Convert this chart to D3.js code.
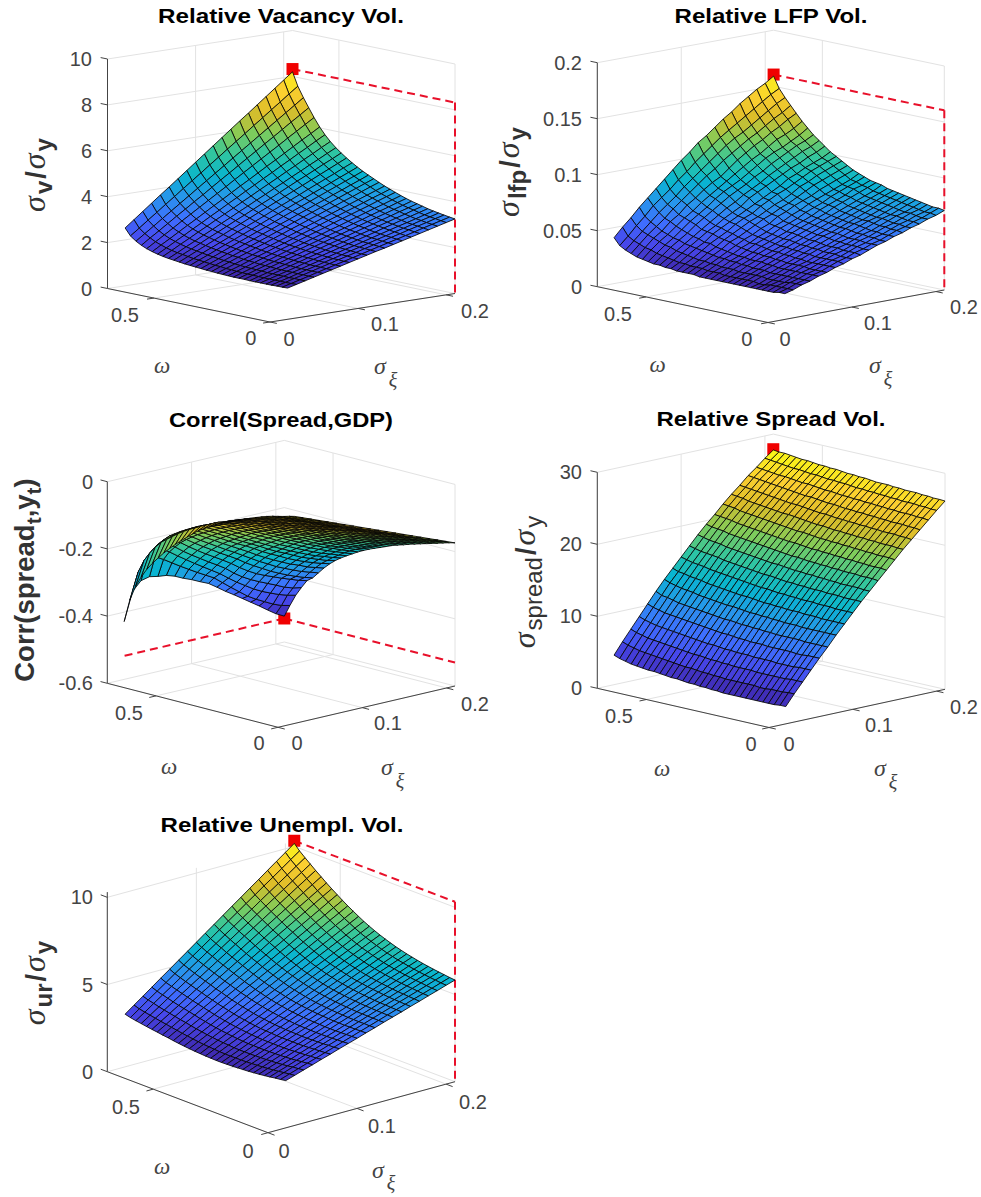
<!DOCTYPE html>
<html>
<head>
<meta charset="utf-8">
<script src="https://cdn.jsdelivr.net/npm/d3@7"></script>
<style>
  html, body { margin: 0; background: #fff; }
  text { font-family: "Liberation Sans", sans-serif; }
</style>
</head>
<body>
<div id="chart"></div>
<script>
const sigmaGrid = [0.02, 0.03, 0.04, 0.05, 0.06, 0.07, 0.08, 0.09, 0.1, 0.11, 0.12, 0.13, 0.14, 0.15, 0.16, 0.17, 0.18, 0.19, 0.2, 0.21];
const omegaGrid = [0, 0.023, 0.047, 0.07, 0.093, 0.117, 0.14, 0.163, 0.187, 0.21, 0.233, 0.257, 0.28, 0.303, 0.327, 0.35, 0.373, 0.397, 0.42, 0.443, 0.467, 0.49, 0.513, 0.537, 0.56, 0.583, 0.607, 0.63, 0.653, 0.677, 0.7];

// one row per omega, one column per sigma
const vacancyZ = [
  [1.36,1.46,1.56,1.66,1.76,1.86,1.96,2.06,2.16,2.26,2.36,2.45,2.55,2.65,2.75,2.85,2.95,3.05,3.15,3.25],
  [1.35,1.45,1.55,1.65,1.76,1.86,1.96,2.06,2.16,2.26,2.37,2.47,2.57,2.67,2.77,2.87,2.98,3.08,3.18,3.28],
  [1.35,1.45,1.56,1.66,1.76,1.87,1.97,2.08,2.18,2.28,2.39,2.49,2.59,2.70,2.80,2.91,3.01,3.11,3.22,3.32],
  [1.34,1.45,1.55,1.66,1.77,1.87,1.98,2.08,2.19,2.30,2.40,2.51,2.62,2.72,2.83,2.93,3.04,3.15,3.25,3.36],
  [1.34,1.45,1.56,1.67,1.77,1.88,1.99,2.10,2.21,2.32,2.42,2.53,2.64,2.75,2.86,2.97,3.07,3.18,3.29,3.40],
  [1.34,1.45,1.56,1.67,1.78,1.90,2.01,2.12,2.23,2.34,2.45,2.56,2.67,2.78,2.90,3.01,3.12,3.23,3.34,3.45],
  [1.34,1.45,1.57,1.68,1.80,1.91,2.03,2.14,2.25,2.37,2.48,2.60,2.71,2.82,2.94,3.05,3.17,3.28,3.40,3.51],
  [1.34,1.46,1.57,1.69,1.81,1.93,2.04,2.16,2.28,2.40,2.51,2.63,2.75,2.87,2.98,3.10,3.22,3.34,3.45,3.57],
  [1.35,1.47,1.59,1.71,1.83,1.95,2.07,2.19,2.31,2.43,2.55,2.67,2.79,2.91,3.03,3.15,3.27,3.39,3.51,3.63],
  [1.35,1.47,1.60,1.72,1.84,1.97,2.09,2.22,2.34,2.46,2.59,2.71,2.83,2.96,3.08,3.21,3.33,3.45,3.58,3.70],
  [1.35,1.48,1.61,1.73,1.86,1.99,2.12,2.25,2.37,2.50,2.63,2.76,2.88,3.01,3.14,3.27,3.40,3.52,3.65,3.78],
  [1.36,1.49,1.62,1.76,1.89,2.02,2.15,2.28,2.42,2.55,2.68,2.81,2.95,3.08,3.21,3.34,3.47,3.61,3.74,3.87],
  [1.37,1.51,1.64,1.78,1.92,2.05,2.19,2.32,2.46,2.60,2.73,2.87,3.01,3.14,3.28,3.41,3.55,3.69,3.82,3.96],
  [1.38,1.52,1.66,1.80,1.94,2.08,2.22,2.36,2.50,2.64,2.79,2.93,3.07,3.21,3.35,3.49,3.63,3.77,3.91,4.05],
  [1.40,1.55,1.69,1.84,1.98,2.13,2.27,2.42,2.56,2.71,2.85,3.00,3.14,3.29,3.43,3.58,3.72,3.87,4.02,4.16],
  [1.41,1.56,1.71,1.86,2.01,2.16,2.31,2.46,2.61,2.76,2.92,3.07,3.22,3.37,3.52,3.67,3.82,3.97,4.12,4.27],
  [1.43,1.59,1.74,1.90,2.05,2.21,2.36,2.52,2.67,2.83,2.98,3.14,3.29,3.45,3.60,3.76,3.91,4.07,4.22,4.38],
  [1.45,1.61,1.77,1.93,2.09,2.25,2.41,2.57,2.73,2.89,3.06,3.22,3.38,3.54,3.70,3.86,4.02,4.18,4.34,4.50],
  [1.47,1.64,1.80,1.97,2.14,2.30,2.47,2.63,2.80,2.97,3.13,3.30,3.47,3.63,3.80,3.96,4.13,4.30,4.46,4.63],
  [1.49,1.66,1.84,2.01,2.18,2.35,2.53,2.70,2.87,3.04,3.22,3.39,3.56,3.73,3.91,4.08,4.25,4.42,4.60,4.77],
  [1.52,1.70,1.88,2.06,2.24,2.42,2.60,2.78,2.96,3.14,3.31,3.49,3.67,3.85,4.03,4.21,4.39,4.57,4.75,4.93],
  [1.55,1.74,1.92,2.11,2.30,2.48,2.67,2.86,3.04,3.23,3.42,3.60,3.79,3.98,4.17,4.35,4.54,4.73,4.91,5.10],
  [1.58,1.77,1.97,2.16,2.36,2.55,2.75,2.94,3.14,3.33,3.53,3.72,3.92,4.11,4.31,4.50,4.70,4.89,5.09,5.28],
  [1.62,1.82,2.03,2.23,2.44,2.64,2.85,3.05,3.25,3.46,3.66,3.87,4.07,4.27,4.48,4.68,4.89,5.09,5.30,5.50],
  [1.67,1.88,2.10,2.31,2.53,2.74,2.96,3.17,3.39,3.60,3.82,4.03,4.25,4.46,4.68,4.89,5.11,5.32,5.54,5.75],
  [1.73,1.96,2.18,2.41,2.64,2.86,3.09,3.32,3.54,3.77,4.00,4.22,4.45,4.68,4.90,5.13,5.36,5.59,5.81,6.04],
  [1.81,2.05,2.29,2.53,2.78,3.02,3.26,3.50,3.74,3.98,4.23,4.47,4.71,4.95,5.19,5.43,5.68,5.92,6.16,6.40],
  [1.91,2.17,2.42,2.68,2.94,3.19,3.45,3.70,3.96,4.22,4.47,4.73,4.99,5.24,5.50,5.75,6.01,6.27,6.52,6.78],
  [2.04,2.31,2.58,2.85,3.12,3.39,3.66,3.93,4.20,4.47,4.74,5.01,5.28,5.55,5.82,6.09,6.36,6.63,6.90,7.17],
  [2.22,2.50,2.79,3.07,3.36,3.64,3.93,4.21,4.49,4.78,5.06,5.35,5.63,5.91,6.20,6.48,6.77,7.05,7.34,7.62],
  [2.52,2.82,3.12,3.42,3.72,4.01,4.31,4.61,4.91,5.21,5.51,5.81,6.11,6.41,6.70,7.00,7.30,7.60,7.90,8.20]
];
const lfpZ = [
  [.023,.025,.028,.030,.033,.035,.038,.040,.043,.045,.048,.051,.053,.056,.058,.061,.063,.066,.068,.071],
  [.023,.025,.028,.030,.033,.035,.038,.041,.043,.046,.048,.051,.053,.056,.059,.061,.064,.066,.069,.072],
  [.022,.025,.028,.030,.033,.035,.038,.041,.043,.046,.049,.051,.054,.056,.059,.062,.064,.067,.069,.072],
  [.022,.025,.027,.030,.033,.035,.038,.041,.044,.046,.049,.052,.054,.057,.060,.062,.065,.068,.070,.073],
  [.022,.025,.027,.030,.033,.036,.038,.041,.044,.047,.049,.052,.055,.057,.060,.063,.066,.068,.071,.074],
  [.022,.024,.027,.030,.033,.036,.038,.041,.044,.047,.050,.052,.055,.058,.061,.064,.066,.069,.072,.075],
  [.022,.024,.027,.030,.033,.036,.039,.042,.045,.047,.050,.053,.056,.059,.062,.064,.067,.070,.073,.076],
  [.022,.025,.028,.030,.033,.036,.039,.042,.045,.048,.051,.054,.057,.060,.062,.065,.068,.071,.074,.077],
  [.022,.025,.028,.031,.034,.037,.040,.043,.046,.049,.052,.054,.057,.060,.063,.066,.069,.072,.075,.078],
  [.022,.025,.028,.031,.034,.037,.040,.043,.046,.049,.052,.055,.058,.061,.064,.067,.070,.073,.076,.079],
  [.022,.025,.028,.031,.035,.038,.041,.044,.047,.050,.053,.056,.059,.062,.065,.068,.071,.074,.077,.080],
  [.022,.025,.028,.032,.035,.038,.041,.044,.048,.051,.054,.057,.060,.063,.066,.069,.072,.075,.078,.082],
  [.022,.025,.029,.032,.035,.039,.042,.045,.048,.052,.055,.058,.061,.064,.068,.071,.074,.077,.080,.083],
  [.022,.026,.029,.033,.036,.039,.043,.046,.049,.052,.056,.059,.062,.066,.069,.072,.075,.079,.081,.084],
  [.022,.026,.029,.033,.036,.040,.044,.047,.050,.054,.057,.060,.064,.067,.070,.074,.077,.080,.083,.086],
  [.022,.026,.030,.034,.037,.041,.044,.048,.051,.055,.058,.062,.065,.069,.072,.075,.078,.081,.084,.088],
  [.023,.027,.030,.034,.038,.042,.046,.049,.053,.056,.061,.064,.068,.071,.074,.078,.081,.084,.087,.090],
  [.023,.027,.031,.035,.039,.044,.047,.051,.055,.059,.062,.066,.069,.073,.077,.081,.084,.087,.090,.093],
  [.023,.027,.031,.036,.040,.045,.049,.053,.057,.060,.064,.068,.071,.075,.080,.083,.087,.090,.093,.096],
  [.023,.028,.032,.037,.042,.046,.050,.055,.059,.062,.067,.071,.075,.078,.082,.086,.090,.093,.096,.099],
  [.024,.028,.033,.038,.042,.048,.052,.056,.060,.064,.068,.072,.076,.080,.085,.088,.092,.095,.098,.102],
  [.024,.029,.034,.039,.044,.049,.053,.058,.062,.066,.072,.076,.080,.084,.088,.092,.095,.099,.102,.106],
  [.025,.030,.035,.040,.045,.050,.055,.060,.065,.069,.074,.078,.082,.087,.091,.095,.099,.103,.106,.110],
  [.025,.031,.037,.042,.047,.053,.058,.063,.068,.073,.077,.081,.086,.090,.095,.099,.103,.107,.110,.114],
  [.026,.032,.038,.043,.049,.055,.060,.065,.071,.076,.080,.084,.089,.094,.099,.103,.106,.110,.114,.119],
  [.027,.034,.040,.045,.051,.057,.062,.068,.073,.078,.083,.088,.093,.098,.102,.107,.112,.115,.119,.124],
  [.028,.035,.042,.047,.054,.059,.066,.071,.077,.082,.086,.092,.098,.103,.108,.112,.117,.121,.126,.130],
  [.030,.037,.044,.050,.056,.063,.069,.075,.081,.087,.092,.098,.103,.108,.113,.117,.122,.127,.131,.136],
  [.032,.039,.046,.053,.060,.066,.072,.079,.085,.091,.097,.103,.109,.114,.118,.123,.128,.133,.138,.142],
  [.035,.042,.050,.057,.065,.071,.077,.084,.090,.097,.103,.109,.115,.120,.125,.130,.135,.140,.145,.149],
  [.041,.049,.056,.064,.071,.078,.085,.092,.099,.105,.112,.117,.123,.129,.134,.140,.145,.150,.154,.159]
];
const corrZ = [
  [.016,.006,-.004,-.014,-.024,-.034,-.044,-.054,-.064,-.074,-.084,-.094,-.104,-.114,-.124,-.134,-.144,-.154,-.164,-.174],
  [.012,.002,-.008,-.018,-.028,-.038,-.048,-.059,-.069,-.079,-.089,-.099,-.109,-.119,-.129,-.139,-.149,-.158,-.168,-.178],
  [.007,-.003,-.013,-.023,-.033,-.043,-.053,-.063,-.073,-.083,-.093,-.103,-.113,-.123,-.133,-.143,-.153,-.163,-.173,-.183],
  [.003,-.007,-.017,-.027,-.037,-.047,-.057,-.067,-.077,-.087,-.097,-.107,-.117,-.127,-.137,-.148,-.158,-.168,-.178,-.188],
  [-.001,-.010,-.020,-.030,-.040,-.051,-.061,-.071,-.081,-.091,-.101,-.111,-.121,-.132,-.142,-.152,-.162,-.172,-.182,-.193],
  [-.006,-.015,-.025,-.035,-.044,-.054,-.065,-.075,-.085,-.095,-.105,-.115,-.126,-.136,-.147,-.157,-.167,-.177,-.187,-.198],
  [-.012,-.020,-.029,-.039,-.049,-.059,-.070,-.080,-.090,-.100,-.110,-.120,-.131,-.141,-.152,-.162,-.172,-.182,-.192,-.203],
  [-.018,-.025,-.034,-.044,-.053,-.064,-.074,-.085,-.095,-.105,-.115,-.125,-.136,-.146,-.157,-.167,-.177,-.187,-.197,-.208],
  [-.025,-.031,-.039,-.049,-.059,-.069,-.079,-.090,-.100,-.110,-.120,-.131,-.141,-.152,-.162,-.172,-.182,-.192,-.203,-.213],
  [-.031,-.036,-.044,-.054,-.064,-.074,-.085,-.095,-.105,-.116,-.126,-.137,-.147,-.158,-.168,-.178,-.188,-.198,-.208,-.219],
  [-.038,-.042,-.050,-.059,-.069,-.079,-.090,-.100,-.111,-.121,-.132,-.143,-.153,-.164,-.174,-.184,-.194,-.204,-.214,-.224],
  [-.045,-.048,-.055,-.064,-.074,-.085,-.095,-.106,-.117,-.127,-.138,-.149,-.160,-.170,-.181,-.191,-.200,-.210,-.220,-.230],
  [-.053,-.054,-.061,-.070,-.080,-.090,-.101,-.112,-.123,-.134,-.145,-.156,-.166,-.177,-.187,-.197,-.207,-.217,-.227,-.237],
  [-.061,-.060,-.066,-.075,-.085,-.096,-.107,-.118,-.129,-.140,-.151,-.162,-.173,-.184,-.194,-.204,-.214,-.224,-.234,-.244],
  [-.070,-.068,-.072,-.081,-.091,-.102,-.113,-.124,-.136,-.147,-.158,-.169,-.180,-.191,-.202,-.212,-.222,-.232,-.241,-.251],
  [-.080,-.073,-.078,-.087,-.097,-.108,-.120,-.131,-.143,-.154,-.166,-.177,-.188,-.199,-.210,-.220,-.230,-.239,-.249,-.258],
  [-.090,-.081,-.084,-.093,-.104,-.115,-.127,-.138,-.150,-.162,-.174,-.185,-.196,-.208,-.218,-.229,-.238,-.248,-.257,-.266],
  [-.101,-.090,-.090,-.099,-.110,-.122,-.134,-.146,-.158,-.170,-.182,-.194,-.205,-.217,-.227,-.238,-.247,-.257,-.266,-.275],
  [-.115,-.098,-.098,-.106,-.118,-.130,-.142,-.154,-.167,-.179,-.192,-.204,-.215,-.227,-.238,-.248,-.258,-.267,-.276,-.285],
  [-.129,-.107,-.105,-.114,-.125,-.138,-.151,-.164,-.177,-.189,-.202,-.215,-.226,-.238,-.249,-.260,-.270,-.278,-.287,-.295],
  [-.144,-.116,-.113,-.122,-.134,-.147,-.160,-.174,-.187,-.200,-.213,-.226,-.238,-.250,-.261,-.272,-.282,-.290,-.299,-.306],
  [-.159,-.126,-.122,-.130,-.143,-.156,-.170,-.184,-.197,-.210,-.223,-.237,-.250,-.261,-.273,-.285,-.294,-.303,-.312,-.318],
  [-.175,-.137,-.131,-.139,-.152,-.166,-.180,-.194,-.208,-.220,-.234,-.249,-.262,-.274,-.287,-.298,-.308,-.317,-.325,-.332],
  [-.193,-.150,-.141,-.147,-.162,-.177,-.191,-.206,-.220,-.234,-.248,-.263,-.277,-.290,-.302,-.314,-.323,-.334,-.342,-.349],
  [-.212,-.163,-.152,-.158,-.173,-.189,-.204,-.219,-.234,-.248,-.263,-.278,-.293,-.306,-.320,-.331,-.342,-.352,-.360,-.368],
  [-.232,-.176,-.163,-.169,-.185,-.202,-.218,-.233,-.249,-.263,-.278,-.295,-.310,-.324,-.338,-.350,-.361,-.371,-.380,-.387],
  [-.255,-.195,-.179,-.183,-.199,-.217,-.234,-.250,-.265,-.280,-.296,-.314,-.330,-.344,-.355,-.365,-.375,-.384,-.393,-.400],
  [-.282,-.217,-.196,-.200,-.216,-.235,-.252,-.268,-.284,-.299,-.315,-.335,-.352,-.366,-.378,-.389,-.400,-.412,-.420,-.425],
  [-.314,-.243,-.219,-.219,-.235,-.253,-.270,-.287,-.303,-.319,-.335,-.354,-.372,-.388,-.404,-.417,-.428,-.438,-.446,-.452],
  [-.360,-.282,-.252,-.248,-.262,-.278,-.294,-.309,-.324,-.338,-.352,-.372,-.392,-.411,-.430,-.445,-.458,-.471,-.481,-.487],
  [-.428,-.344,-.318,-.312,-.317,-.320,-.328,-.340,-.350,-.362,-.373,-.390,-.408,-.424,-.441,-.458,-.475,-.493,-.510,-.523]
];
const spreadZ = [
  [2.4,3.9,5.3,6.7,8.1,9.4,10.8,12.1,13.4,14.7,15.9,17.1,18.3,19.5,20.7,21.8,22.9,24.0,25.1,26.15],
  [2.4,3.9,5.3,6.7,8.1,9.4,10.8,12.1,13.4,14.7,15.9,17.2,18.4,19.6,20.7,21.9,23.0,24.1,25.1,26.2],
  [2.3,3.8,5.3,6.7,8.1,9.4,10.8,12.1,13.4,14.7,16.0,17.2,18.4,19.6,20.8,21.9,23.0,24.1,25.2,26.2],
  [2.3,3.8,5.2,6.6,8.0,9.4,10.8,12.1,13.4,14.7,16.0,17.2,18.4,19.6,20.8,22.0,23.1,24.2,25.2,26.3],
  [2.3,3.8,5.2,6.6,8.0,9.4,10.8,12.1,13.5,14.8,16.0,17.3,18.5,19.7,20.8,22.0,23.1,24.2,25.3,26.3],
  [2.3,3.7,5.2,6.6,8.1,9.5,10.8,12.2,13.5,14.8,16.0,17.3,18.5,19.7,20.9,22.0,23.1,24.2,25.3,26.4],
  [2.3,3.7,5.2,6.6,8.1,9.5,10.8,12.2,13.5,14.8,16.1,17.3,18.6,19.8,20.9,22.1,23.2,24.3,25.3,26.4],
  [2.3,3.8,5.2,6.7,8.1,9.5,10.9,12.2,13.6,14.9,16.1,17.4,18.6,19.8,21.0,22.1,23.2,24.3,25.4,26.4],
  [2.3,3.8,5.2,6.7,8.1,9.5,10.9,12.3,13.6,14.9,16.2,17.4,18.7,19.9,21.0,22.2,23.3,24.4,25.4,26.5],
  [2.3,3.8,5.3,6.7,8.1,9.5,10.9,12.3,13.6,14.9,16.2,17.5,18.7,19.9,21.1,22.2,23.3,24.4,25.5,26.5],
  [2.3,3.8,5.3,6.7,8.2,9.6,11.0,12.3,13.7,15.0,16.3,17.5,18.8,20.0,21.1,22.3,23.4,24.5,25.5,26.6],
  [2.3,3.8,5.3,6.8,8.2,9.6,11.0,12.4,13.7,15.0,16.3,17.6,18.8,20.0,21.2,22.3,23.4,24.5,25.6,26.6],
  [2.4,3.8,5.3,6.8,8.2,9.7,11.1,12.4,13.8,15.1,16.4,17.6,18.9,20.1,21.2,22.4,23.5,24.6,25.6,26.6],
  [2.4,3.9,5.4,6.8,8.3,9.7,11.1,12.5,13.8,15.1,16.4,17.7,18.9,20.1,21.3,22.4,23.5,24.6,25.7,26.7],
  [2.5,3.9,5.4,6.9,8.3,9.8,11.2,12.5,13.9,15.2,16.5,17.8,19.0,20.2,21.4,22.5,23.6,24.7,25.7,26.8],
  [2.5,4.0,5.5,6.9,8.4,9.8,11.2,12.6,14.0,15.3,16.6,17.8,19.1,20.3,21.4,22.6,23.7,24.7,25.8,26.8],
  [2.6,4.0,5.5,7.0,8.5,9.9,11.3,12.7,14.0,15.4,16.7,17.9,19.2,20.4,21.5,22.6,23.7,24.8,25.9,26.9],
  [2.6,4.1,5.6,7.1,8.5,10.0,11.4,12.8,14.1,15.4,16.7,18.0,19.2,20.4,21.6,22.7,23.8,24.9,25.9,26.9],
  [2.7,4.2,5.7,7.1,8.6,10.0,11.5,12.8,14.2,15.5,16.8,18.1,19.3,20.5,21.7,22.8,23.9,24.9,26.0,27.0],
  [2.8,4.2,5.7,7.2,8.7,10.1,11.5,12.9,14.3,15.6,16.9,18.2,19.4,20.6,21.8,22.9,24.0,25.0,26.0,27.1],
  [2.8,4.3,5.8,7.3,8.8,10.2,11.6,13.0,14.4,15.7,17.0,18.3,19.5,20.7,21.9,23.0,24.0,25.1,26.1,27.1],
  [2.9,4.4,5.9,7.4,8.9,10.3,11.7,13.1,14.5,15.8,17.1,18.4,19.6,20.8,21.9,23.0,24.1,25.2,26.2,27.2],
  [3.0,4.5,6.0,7.5,9.0,10.4,11.8,13.2,14.6,15.9,17.2,18.5,19.7,20.9,22.0,23.1,24.2,25.2,26.2,27.2],
  [3.1,4.6,6.1,7.6,9.1,10.5,11.9,13.3,14.7,16.0,17.3,18.6,19.8,21.0,22.1,23.2,24.3,25.3,26.3,27.3],
  [3.1,4.7,6.2,7.7,9.2,10.6,12.0,13.4,14.8,16.1,17.4,18.7,19.9,21.1,22.2,23.3,24.4,25.4,26.4,27.4],
  [3.2,4.8,6.3,7.8,9.3,10.7,12.2,13.6,14.9,16.3,17.5,18.8,20.0,21.2,22.3,23.4,24.5,25.5,26.4,27.4],
  [3.3,4.9,6.4,7.9,9.4,10.8,12.3,13.7,15.1,16.4,17.7,18.9,20.1,21.3,22.4,23.5,24.6,25.5,26.5,27.5],
  [3.4,5.0,6.5,8.0,9.5,11.0,12.4,13.8,15.2,16.5,17.8,19.1,20.3,21.4,22.5,23.6,24.7,25.6,26.6,27.6],
  [3.6,5.2,6.7,8.2,9.7,11.2,12.6,14.0,15.3,16.6,17.9,19.2,20.4,21.6,22.7,23.7,24.8,25.7,26.7,27.7],
  [3.8,5.4,6.9,8.4,9.9,11.3,12.8,14.1,15.5,16.8,18.1,19.3,20.5,21.7,22.8,23.8,24.9,25.8,26.8,27.7],
  [4.1,5.7,7.2,8.7,10.2,11.7,13.1,14.4,15.7,17.0,18.3,19.5,20.6,21.8,22.9,23.9,25.0,25.9,26.9,27.8]
];
const unemplZ = [
  [2.71,2.87,3.04,3.20,3.37,3.53,3.70,3.86,4.02,4.19,4.35,4.52,4.68,4.84,5.01,5.17,5.34,5.50,5.67,5.83],
  [2.66,2.83,3.00,3.17,3.33,3.50,3.67,3.84,4.01,4.18,4.34,4.51,4.68,4.85,5.02,5.19,5.35,5.52,5.69,5.86],
  [2.62,2.79,2.97,3.14,3.31,3.48,3.66,3.83,4.00,4.17,4.35,4.52,4.69,4.86,5.04,5.21,5.38,5.55,5.73,5.90],
  [2.57,2.75,2.92,3.10,3.28,3.46,3.63,3.81,3.99,4.17,4.34,4.52,4.70,4.88,5.05,5.23,5.41,5.59,5.76,5.94],
  [2.53,2.71,2.89,3.07,3.26,3.44,3.62,3.80,3.98,4.16,4.35,4.53,4.71,4.89,5.07,5.25,5.44,5.62,5.80,5.98],
  [2.49,2.68,2.86,3.05,3.24,3.42,3.61,3.79,3.98,4.17,4.35,4.54,4.73,4.91,5.10,5.28,5.47,5.66,5.84,6.03],
  [2.46,2.65,2.84,3.03,3.22,3.41,3.60,3.79,3.98,4.17,4.37,4.56,4.75,4.94,5.13,5.32,5.51,5.70,5.89,6.08],
  [2.43,2.63,2.82,3.02,3.21,3.41,3.60,3.80,4.00,4.19,4.39,4.58,4.78,4.97,5.17,5.36,5.56,5.75,5.95,6.14],
  [2.41,2.61,2.81,3.01,3.21,3.41,3.61,3.81,4.01,4.21,4.41,4.61,4.81,5.01,5.21,5.41,5.61,5.81,6.01,6.21],
  [2.39,2.59,2.80,3.00,3.21,3.41,3.62,3.82,4.03,4.23,4.44,4.64,4.85,5.05,5.26,5.46,5.67,5.87,6.07,6.28],
  [2.37,2.58,2.79,3.00,3.21,3.42,3.63,3.84,4.05,4.26,4.47,4.68,4.89,5.10,5.31,5.52,5.73,5.94,6.15,6.36],
  [2.36,2.58,2.79,3.01,3.22,3.44,3.65,3.87,4.08,4.30,4.51,4.73,4.94,5.16,5.37,5.59,5.80,6.02,6.23,6.45],
  [2.35,2.57,2.79,3.01,3.23,3.46,3.68,3.90,4.12,4.34,4.56,4.78,5.00,5.22,5.45,5.67,5.89,6.11,6.33,6.55],
  [2.35,2.58,2.80,3.03,3.26,3.48,3.71,3.94,4.16,4.39,4.62,4.84,5.07,5.30,5.53,5.75,5.98,6.21,6.43,6.66],
  [2.36,2.59,2.83,3.06,3.29,3.52,3.76,3.99,4.22,4.45,4.69,4.92,5.15,5.38,5.62,5.85,6.08,6.31,6.55,6.78],
  [2.37,2.61,2.85,3.09,3.33,3.56,3.80,4.04,4.28,4.52,4.76,5.00,5.24,5.48,5.71,5.95,6.19,6.43,6.67,6.91],
  [2.39,2.64,2.88,3.13,3.37,3.62,3.86,4.11,4.35,4.60,4.84,5.09,5.33,5.58,5.82,6.07,6.31,6.56,6.80,7.05],
  [2.41,2.66,2.92,3.17,3.42,3.67,3.93,4.18,4.43,4.68,4.94,5.19,5.44,5.69,5.95,6.20,6.45,6.70,6.96,7.21],
  [2.44,2.70,2.96,3.22,3.48,3.74,4.00,4.26,4.52,4.78,5.04,5.30,5.56,5.82,6.08,6.34,6.60,6.86,7.12,7.38],
  [2.47,2.74,3.01,3.27,3.54,3.81,4.08,4.35,4.61,4.88,5.15,5.42,5.68,5.95,6.22,6.49,6.76,7.02,7.29,7.56],
  [2.51,2.79,3.06,3.34,3.61,3.89,4.16,4.44,4.72,4.99,5.27,5.54,5.82,6.10,6.37,6.65,6.92,7.20,7.47,7.75],
  [2.55,2.83,3.12,3.40,3.69,3.97,4.26,4.54,4.82,5.11,5.39,5.68,5.96,6.24,6.53,6.81,7.10,7.38,7.67,7.95],
  [2.60,2.89,3.19,3.48,3.77,4.06,4.36,4.65,4.94,5.23,5.53,5.82,6.11,6.40,6.70,6.99,7.28,7.57,7.87,8.16],
  [2.64,2.94,3.24,3.55,3.85,4.15,4.45,4.75,5.06,5.36,5.66,5.96,6.27,6.57,6.87,7.17,7.47,7.78,8.08,8.38],
  [2.69,3.00,3.31,3.62,3.93,4.25,4.56,4.87,5.18,5.49,5.80,6.11,6.42,6.73,7.05,7.36,7.67,7.98,8.29,8.60],
  [2.73,3.05,3.37,3.69,4.02,4.34,4.66,4.98,5.30,5.62,5.95,6.27,6.59,6.91,7.23,7.55,7.88,8.20,8.52,8.84],
  [2.78,3.11,3.44,3.77,4.11,4.44,4.77,5.10,5.43,5.76,6.10,6.43,6.76,7.09,7.42,7.75,8.09,8.42,8.75,9.08],
  [2.83,3.17,3.51,3.86,4.20,4.54,4.88,5.22,5.57,5.91,6.25,6.59,6.93,7.28,7.62,7.96,8.30,8.64,8.99,9.33],
  [2.88,3.23,3.59,3.94,4.29,4.64,5.00,5.35,5.70,6.05,6.41,6.76,7.11,7.46,7.82,8.17,8.52,8.87,9.23,9.58],
  [2.94,3.30,3.67,4.03,4.39,4.76,5.12,5.49,5.85,6.21,6.58,6.94,7.30,7.67,8.03,8.40,8.76,9.12,9.49,9.85],
  [3.02,3.40,3.77,4.15,4.53,4.90,5.28,5.65,6.03,6.41,6.78,7.16,7.54,7.91,8.29,8.66,9.04,9.42,9.79,10.17]
];

const parula = ['#3e26a8', '#4747eb', '#3e6fff', '#2796eb', '#08b5d0', '#31c69f', '#81cc59', '#dcbd29', '#fccf30', '#f9fb15'];

const sigmaMax = 0.21;
const omegaMax = 0.7;
const sigmaTicks = [0, 0.1, 0.2];
const omegaTicks = [0, 0.5];
const sigmaTickLabels = ['0', '0.1', '0.2'];
const omegaTickLabels = ['0', '0.5'];

const sym = { font: '"Liberation Serif", serif', style: 'italic' };

const panels = [
  {
    title: 'Relative Vacancy Vol.', titlePos: [281, 15], titleWidth: 246, z: vacancyZ, peak: 8.32, dashes: 'down',
    zLim: [0, 10], zTicks: [0, 2, 4, 6, 8, 10], zTickLabels: ['0', '2', '4', '6', '8', '10'],
    L: [107.5, 288.5], F: [270, 322], R: [455, 293.5], zHeight: 229.5, zLabelX: 92,
    sigmaLabels: [[289, 339], [385, 324], [475, 311]], omegaLabels: [[250.7, 338], [125, 315]],
    omegaName: [162, 365], sigmaName: [380, 366], xi: [393, 380],
    yLabel: { x: 45, y: 175, parts: [['σ', 'm'], ['v', 's'], ['/', 'm'], ['σ', 'm'], ['y', 's']] }
  },
  {
    title: 'Relative LFP Vol.', titlePos: [771, 15], titleWidth: 193, z: lfpZ, peak: 0.1604, dashes: 'down',
    zLim: [0, 0.2], zTicks: [0, 0.05, 0.1, 0.15, 0.2], zTickLabels: ['0', '0.05', '0.1', '0.15', '0.2'],
    L: [597.3, 286.7], F: [768, 322.5], R: [944.3, 290], zHeight: 224, zLabelX: 582,
    sigmaLabels: [[785, 339], [878, 323], [964, 307]], omegaLabels: [[746.7, 339], [618, 314]],
    omegaName: [657.7, 364], sigmaName: [875, 365], xi: [888, 379],
    yLabel: { x: 519, y: 172, parts: [['σ', 'm'], ['lfp', 's'], ['/', 'm'], ['σ', 'm'], ['y', 's']] }
  },
  {
    title: 'Correl(Spread,GDP)', titlePos: [281, 419], titleWidth: 224, z: corrZ, peak: -0.53, dashes: 'both',
    zLim: [-0.6, 0], zTicks: [-0.6, -0.4, -0.2, 0], zTickLabels: ['-0.6', '-0.4', '-0.2', '0'],
    L: [107.3, 683.3], F: [278, 727.3], R: [455, 686], zHeight: 201.6, zLabelX: 93,
    sigmaLabels: [[297, 743], [388, 723], [475, 704]], omegaLabels: [[259, 743], [129, 713]],
    omegaName: [169, 766], sigmaName: [387, 767], xi: [400, 781],
    yLabel: { x: 34, y: 580, parts: [['Corr(spread', 'b'], ['t', 'bs'], [',y', 'b'], ['t', 'bs'], [')', 'b']] }
  },
  {
    title: 'Relative Spread Vol.', titlePos: [771, 418], titleWidth: 229, z: spreadZ, peak: 27.9, dashes: 'none',
    zLim: [0, 30], zTicks: [0, 10, 20, 30], zTickLabels: ['0', '10', '20', '30'],
    L: [597.3, 688.3], F: [769, 727.5], R: [945, 689.3], zHeight: 216, zLabelX: 582,
    sigmaLabels: [[789, 744], [879, 725], [964, 707]], omegaLabels: [[751, 744], [619, 716]],
    omegaName: [662, 768], sigmaName: [880, 768], xi: [893, 782],
    yLabel: { x: 535, y: 582, parts: [['σ', 'm'], ['spread', 'r'], ['/', 'm'], ['σ', 'm'], ['y', 'r']] }
  },
  {
    title: 'Relative Unempl. Vol.', titlePos: [282, 824], titleWidth: 243, z: unemplZ, peak: 10.32, dashes: 'down',
    zLim: [0, 10.3], zTicks: [0, 5, 10], zTickLabels: ['0', '5', '10'],
    L: [107.3, 1071.7], F: [268, 1132.7], R: [455, 1081.7], zHeight: 179.6, zLabelX: 93,
    sigmaLabels: [[284, 1151], [382, 1126], [473, 1102]], omegaLabels: [[248, 1151], [126, 1107]],
    omegaName: [162, 1166], sigmaName: [378, 1170], xi: [391, 1183],
    yLabel: { x: 45, y: 983, parts: [['σ', 'm'], ['ur', 's'], ['/', 'm'], ['σ', 'm'], ['y', 's']] }
  }
];

const svg = d3.select('#chart').append('svg').attr('width', 981).attr('height', 1197);
const pathLine = d3.line();

const drawYLabel = (g, label) => {
  const text = g.append('text')
    .attr('transform', `translate(${label.x},${label.y}) rotate(-90)`)
    .attr('text-anchor', 'middle')
    .attr('fill', '#333');
  let shift = 0;
  label.parts.forEach(([str, kind], i) => {
    const sub = kind === 's' || kind === 'r' || kind === 'bs';
    const target = sub ? 7 : 0;
    const span = text.append('tspan').text(str)
      .attr('dy', target - shift)
      .attr('dx', i > 0 && kind !== 'b' && kind !== 'bs' ? 2 : 0);
    shift = target;
    if (kind === 'm' && str === 'σ') {
      span.style('font-family', sym.font).style('font-style', sym.style).style('font-size', '32px');
    } else if (kind === 'm') {
      span.style('font-size', '27px').style('font-weight', 700);
    } else if (kind === 's') {
      span.style('font-size', '24px').style('font-weight', 700);
    } else if (kind === 'r') {
      span.style('font-size', '24px');
    } else if (kind === 'b') {
      span.style('font-size', '27.5px').style('font-weight', 700);
    } else {
      span.style('font-size', '21px').style('font-weight', 700);
    }
  });
};

panels.forEach(p => {
  const g = svg.append('g');

  const [fx, fy] = p.F;
  const sigmaX = d3.scaleLinear().domain([0, sigmaMax]).range([0, p.R[0] - fx]);
  const sigmaY = d3.scaleLinear().domain([0, sigmaMax]).range([0, p.R[1] - fy]);
  const omegaX = d3.scaleLinear().domain([0, omegaMax]).range([0, p.L[0] - fx]);
  const omegaY = d3.scaleLinear().domain([0, omegaMax]).range([0, p.L[1] - fy]);
  const zY = d3.scaleLinear().domain(p.zLim).range([0, -p.zHeight]);
  const project = (s, w, z) => [fx + sigmaX(s) + omegaX(w), fy + sigmaY(s) + omegaY(w) + zY(z)];

  const color = d3.scaleSequential(d3.piecewise(d3.interpolateRgb, parula))
    .domain(d3.extent(p.z.flat()));

  const [z0, z1] = p.zLim;
  const segment = (a, b, stroke, width) => g.append('line')
    .attr('x1', a[0]).attr('y1', a[1]).attr('x2', b[0]).attr('y2', b[1])
    .attr('stroke', stroke).attr('stroke-width', width);

  // grid on the two walls and the floor
  const gridColor = '#e2e2e2';
  p.zTicks.forEach(t => {
    segment(project(0, omegaMax, t), project(sigmaMax, omegaMax, t), gridColor, 1);
    segment(project(sigmaMax, omegaMax, t), project(sigmaMax, 0, t), gridColor, 1);
  });
  sigmaTicks.forEach(t => {
    segment(project(t, omegaMax, z0), project(t, omegaMax, z1), gridColor, 1);
    segment(project(t, 0, z0), project(t, omegaMax, z0), gridColor, 1);
  });
  omegaTicks.forEach(t => {
    segment(project(sigmaMax, t, z0), project(sigmaMax, t, z1), gridColor, 1);
    segment(project(0, t, z0), project(sigmaMax, t, z0), gridColor, 1);
  });

  // axis lines and ticks
  const axisColor = '#444';
  const unit = (a, b) => {
    const len = Math.hypot(b[0] - a[0], b[1] - a[1]);
    return [(b[0] - a[0]) / len, (b[1] - a[1]) / len];
  };
  const tickLen = 7;
  segment(project(0, omegaMax, z0), project(0, omegaMax, z1), axisColor, 1);
  segment(project(0, 0, z0), project(0, omegaMax, z0), axisColor, 1);
  segment(project(0, 0, z0), project(sigmaMax, 0, z0), axisColor, 1);

  const zDir = unit(p.F, p.L);
  const omegaDir = unit(p.R, p.F);
  const sigmaDir = unit(p.L, p.F);
  const tick = (a, d) => segment(a, [a[0] + d[0] * tickLen, a[1] + d[1] * tickLen], axisColor, 1);

  const tickText = (pos, str, anchor) => g.append('text')
    .attr('x', pos[0]).attr('y', pos[1])
    .attr('text-anchor', anchor)
    .attr('dominant-baseline', 'central')
    .attr('fill', '#444')
    .style('font-size', '20px')
    .text(str);

  p.zTicks.forEach((t, i) => {
    const a = project(0, omegaMax, t);
    tick(a, zDir);
    tickText([p.zLabelX, a[1]], p.zTickLabels[i], 'end');
  });
  omegaTicks.forEach((t, i) => {
    tick(project(0, t, z0), omegaDir);
    tickText(p.omegaLabels[i], omegaTickLabels[i], 'middle');
  });
  sigmaTicks.forEach((t, i) => {
    tick(project(t, 0, z0), sigmaDir);
    tickText(p.sigmaLabels[i], sigmaTickLabels[i], 'middle');
  });

  // red marker and its dashed guides sit behind the surface
  const peak = project(sigmaMax, omegaMax, p.peak);
  const dash = (a, b) => segment(a, b, '#e8102a', 2).attr('stroke-dasharray', '8 5');
  if (p.dashes !== 'none') {
    dash(peak, project(sigmaMax, 0, p.peak));
  }
  if (p.dashes === 'down') {
    dash(project(sigmaMax, 0, p.peak), project(sigmaMax, 0, z0));
  }
  if (p.dashes === 'both') {
    dash(peak, project(sigmaGrid[0], omegaMax, p.peak));
  }
  g.append('rect')
    .attr('x', peak[0] - 6).attr('y', peak[1] - 6)
    .attr('width', 12).attr('height', 12)
    .attr('fill', '#f00000');

  // surface cells, far corner first so nearer cells cover them
  const cells = [];
  for (let w = omegaGrid.length - 2; w >= 0; w--) {
    for (let s = sigmaGrid.length - 2; s >= 0; s--) {
      cells.push({ w, s });
    }
  }
  g.append('g').selectAll('path')
    .data(cells)
    .enter()
    .append('path')
    .attr('d', d => pathLine([
      project(sigmaGrid[d.s], omegaGrid[d.w], p.z[d.w][d.s]),
      project(sigmaGrid[d.s + 1], omegaGrid[d.w], p.z[d.w][d.s + 1]),
      project(sigmaGrid[d.s + 1], omegaGrid[d.w + 1], p.z[d.w + 1][d.s + 1]),
      project(sigmaGrid[d.s], omegaGrid[d.w + 1], p.z[d.w + 1][d.s])
    ]) + 'Z')
    .attr('fill', d => color(d3.mean([p.z[d.w][d.s], p.z[d.w][d.s + 1], p.z[d.w + 1][d.s + 1], p.z[d.w + 1][d.s]])))
    .attr('stroke', '#050505')
    .attr('stroke-width', 1)
    .attr('stroke-opacity', 0.85)
    .attr('stroke-linejoin', 'round');

  // title and axis names
  g.append('text')
    .attr('x', p.titlePos[0]).attr('y', p.titlePos[1])
    .attr('text-anchor', 'middle')
    .attr('dominant-baseline', 'central')
    .attr('fill', '#000')
    .attr('textLength', p.titleWidth)
    .attr('lengthAdjust', 'spacingAndGlyphs')
    .style('font-size', '21px')
    .style('font-weight', 700)
    .text(p.title);

  const symbol = (pos, str, size) => g.append('text')
    .attr('x', pos[0]).attr('y', pos[1])
    .attr('text-anchor', 'middle')
    .attr('dominant-baseline', 'central')
    .attr('fill', '#444')
    .style('font-family', sym.font)
    .style('font-style', sym.style)
    .style('font-size', size)
    .text(str);
  symbol(p.omegaName, 'ω', '23px');
  symbol(p.sigmaName, 'σ', '24px');
  symbol(p.xi, 'ξ', '20px');

  drawYLabel(g, p.yLabel);
});
</script>
</body>
</html>
